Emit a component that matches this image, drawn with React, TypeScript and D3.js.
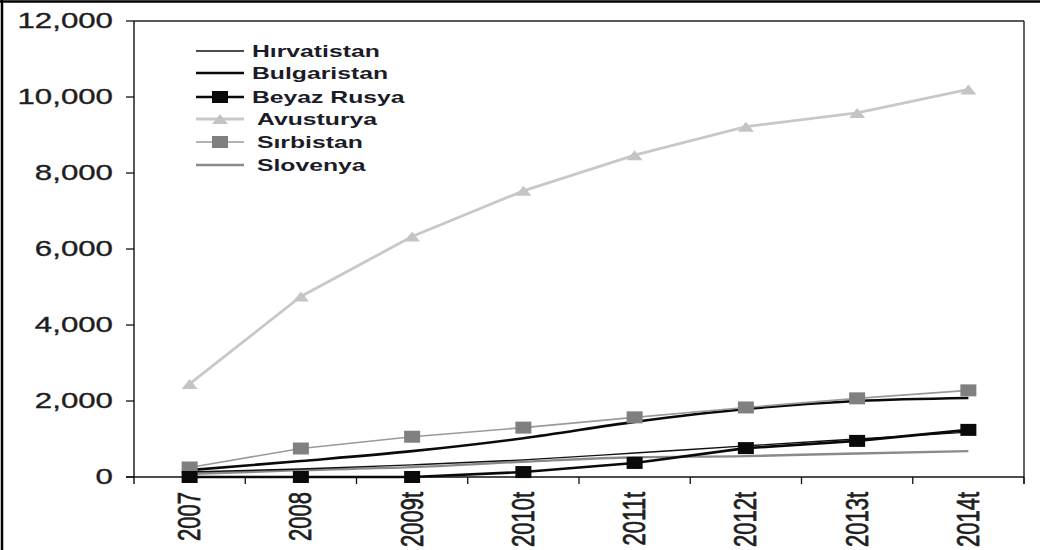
import React from "react";
import * as d3 from "d3";

const categories = ["2007", "2008", "2009t", "2010t", "2011t", "2012t", "2013t", "2014t"];
const hirvatistan = [130, 210, 320, 450, 630, 820, 1000, 1180];
const bulgaristan = [180, 420, 680, 1020, 1450, 1790, 2000, 2080];
const beyazRusya = [0, 0, 0, 130, 370, 760, 950, 1240];
const avusturya = [2450, 4750, 6330, 7530, 8470, 9220, 9580, 10200];
const sirbistan = [250, 750, 1060, 1300, 1570, 1830, 2070, 2280];
const slovenya = [80, 180, 260, 400, 520, 550, 620, 680];
const yTicks = [0, 2000, 4000, 6000, 8000, 10000, 12000];

type Series = {
  name: string;
  values: number[];
  stroke: string;
  width: number;
  marker: "none" | "square" | "triangle";
  markerFill?: string;
  curve: boolean;
};

const series: Series[] = [
  { name: "Hırvatistan", values: hirvatistan, stroke: "#111", width: 1.4, marker: "none", curve: true },
  { name: "Bulgaristan", values: bulgaristan, stroke: "#0a0a0a", width: 2.6, marker: "none", curve: true },
  { name: "Beyaz Rusya", values: beyazRusya, stroke: "#0a0a0a", width: 2.6, marker: "square", markerFill: "#0a0a0a", curve: false },
  { name: "Avusturya", values: avusturya, stroke: "#c8c8c8", width: 2.8, marker: "triangle", markerFill: "#c4c4c4", curve: false },
  { name: "Sırbistan", values: sirbistan, stroke: "#9a9a9a", width: 1.6, marker: "square", markerFill: "#808080", curve: false },
  { name: "Slovenya", values: slovenya, stroke: "#8a8a8a", width: 2.4, marker: "none", curve: true },
];

const drawOrder = [3, 5, 0, 1, 4, 2];

const L = 134, R = 1024, T = 21, B = 477;
const SX = 1.42;

export default function App() {
  const x = d3.scaleBand<string>().domain(categories).range([L, R]);
  const y = d3.scaleLinear().domain([0, 12000]).range([B, T]);
  const cx = (c: string) => (x(c) as number) + x.bandwidth() / 2;

  const marker = (s: Series, px: number, py: number, key: string) => {
    if (s.marker === "square")
      return <rect key={key} x={px - 8} y={py - 6} width={16} height={12} fill={s.markerFill} />;
    if (s.marker === "triangle")
      return (
        <path key={key} d={`M${px - 8},${py + 5} L${px + 8},${py + 5} L${px},${py - 5} Z`} fill={s.markerFill} />
      );
    return null;
  };

  const legendRows = [51, 73, 97, 119, 142, 165];
  const legendTextX = [252, 252, 252, 257, 257, 257];

  return (
    <svg
      width={1040}
      height={550}
      style={{ position: "absolute", left: 0, top: 0, background: "#fff" }}
      fontFamily="'Liberation Sans', Arial, sans-serif"
    >
      <rect x={0} y={0} width={1040} height={550} fill="#fff" />
      {/* outer frame */}
      <line x1={2} y1={0} x2={2} y2={550} stroke="#000" strokeWidth={2.5} />
      <line x1={0} y1={1.5} x2={1040} y2={1.5} stroke="#000" strokeWidth={2.5} />

      {/* plot frame */}
      <line x1={L} y1={T} x2={R} y2={T} stroke="#222" strokeWidth={1.4} />
      <line x1={R} y1={T} x2={R} y2={B + 7} stroke="#222" strokeWidth={1.4} />
      <line x1={L} y1={T} x2={L} y2={B + 7} stroke="#111" strokeWidth={1.4} />
      <line x1={L - 8} y1={B} x2={R} y2={B} stroke="#111" strokeWidth={1.4} />

      {yTicks.map((t) => (
        <g key={t}>
          <line x1={L - 8} x2={L} y1={y(t)} y2={y(t)} stroke="#111" strokeWidth={1.3} />
          <text
            transform={`translate(${L - 21},${y(t)}) scale(${SX},1)`}
            textAnchor="end"
            dominantBaseline="central"
            fontSize={22}
            fill="#1e1e1e"
            stroke="#1e1e1e"
            strokeWidth={0.35}
          >
            {d3.format(",")(t)}
          </text>
        </g>
      ))}

      {categories.map((c) => (
        <g key={c}>
          <line
            x1={(x(c) as number) + x.bandwidth()}
            x2={(x(c) as number) + x.bandwidth()}
            y1={B}
            y2={B + 7}
            stroke="#111"
            strokeWidth={1.3}
          />
          <text
            transform={`translate(${cx(c)},${B + 15}) scale(${SX},1) rotate(-90)`}
            textAnchor="end"
            dominantBaseline="central"
            fontSize={22}
            fill="#1e1e1e"
            stroke="#1e1e1e"
            strokeWidth={0.5}
          >
            {c}
          </text>
        </g>
      ))}

      {drawOrder.map((si) => {
        const s = series[si];
        const line = d3
          .line<number>()
          .x((_, i) => cx(categories[i]))
          .y((v) => y(v))
          .curve(s.curve ? d3.curveMonotoneX : d3.curveLinear);
        return (
          <g key={s.name}>
            <path d={line(s.values) || ""} fill="none" stroke={s.stroke} strokeWidth={s.width} />
            {s.values.map((v, i) => marker(s, cx(categories[i]), y(v), `${s.name}-${i}`))}
          </g>
        );
      })}

      {/* legend */}
      {series.map((s, i) => {
        const ly = legendRows[i];
        return (
          <g key={`lg-${s.name}`}>
            <line x1={196} x2={244} y1={ly} y2={ly} stroke={s.stroke} strokeWidth={s.width} />
            {marker(s, 220, ly, `lgm-${i}`)}
            <text
              transform={`translate(${legendTextX[i]},${ly}) scale(1.5,1)`}
              dominantBaseline="central"
              fontSize={16.5}
              fontWeight="bold"
              fill="#1c1c28"
            >
              {s.name}
            </text>
          </g>
        );
      })}
    </svg>
  );
}
